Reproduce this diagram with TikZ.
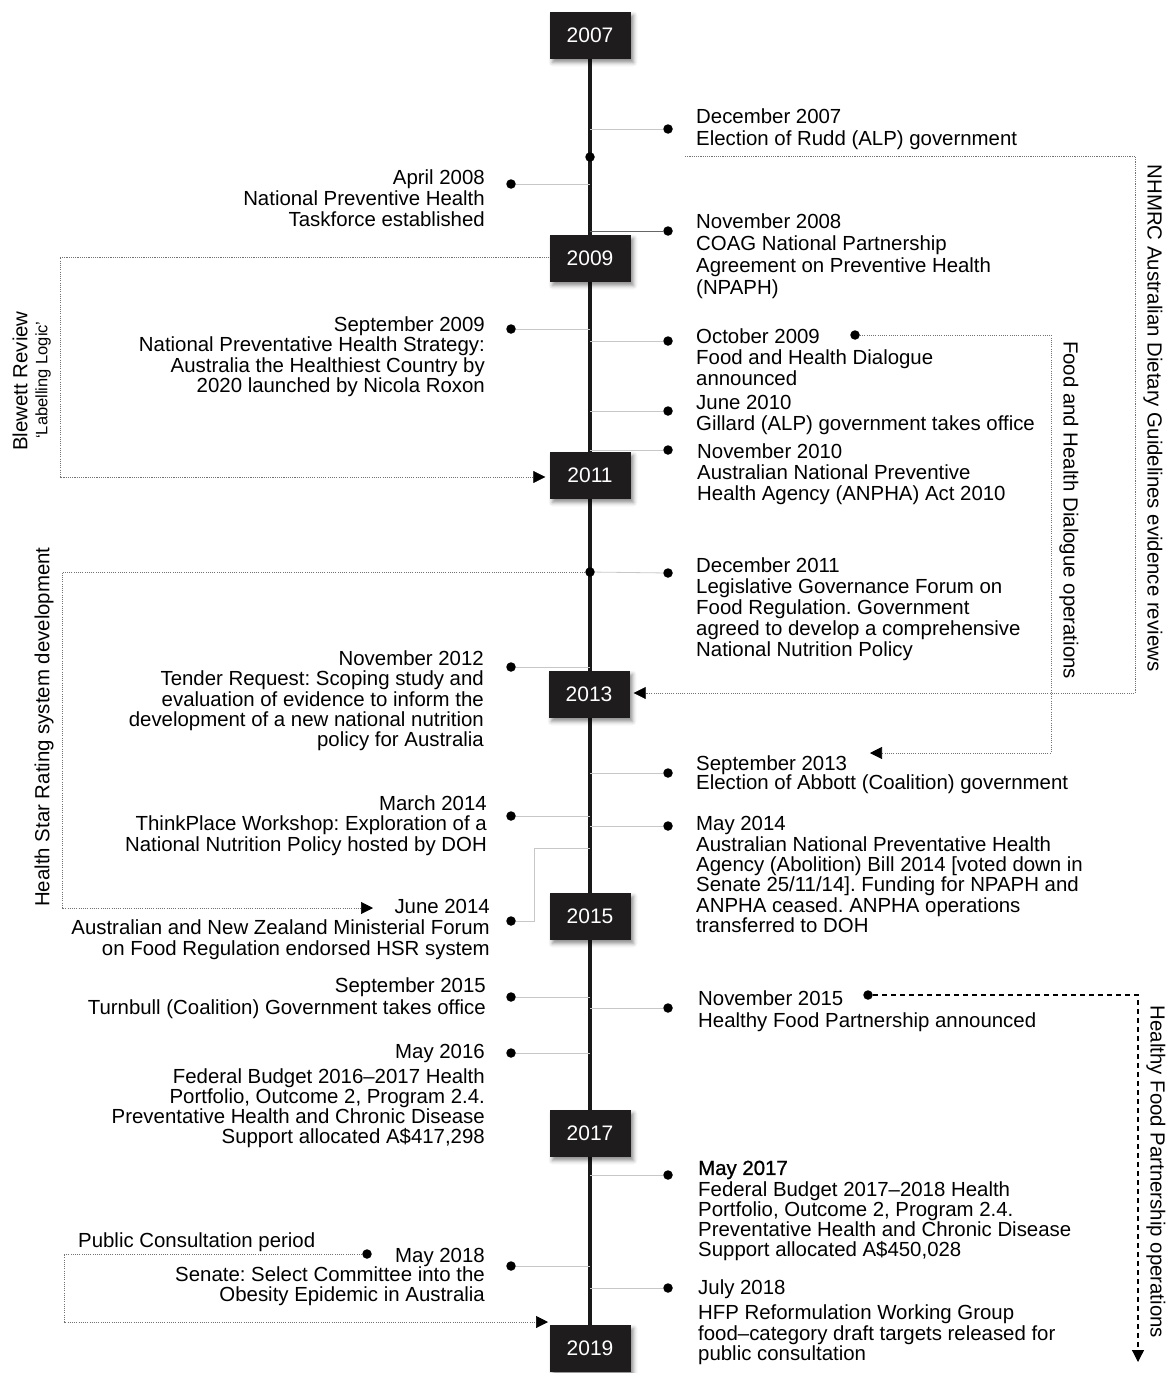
\documentclass[tikz,border=0pt]{standalone}
\usepackage{fontspec}
\setmainfont{Liberation Sans}
\newfontfamily\hdfont[FakeBold=0.9]{Liberation Sans}
\usetikzlibrary{arrows.meta,shadows.blur}
\definecolor{boxblack}{HTML}{1E1C1C}
\frenchspacing
\begin{document}
\begin{tikzpicture}[x=1pt,y=-1pt,
  every node/.style={font=\fontsize{20.4}{21}\selectfont},
  yearbox/.style={fill=boxblack, text=white, minimum width=81pt, minimum height=47pt, inner sep=0,
     font=\fontsize{21}{22}\selectfont,
     blur shadow={shadow xshift=3pt, shadow yshift=-4pt, shadow blur radius=4pt, shadow opacity=45}},
  evdot/.style={circle, fill=black, inner sep=0, minimum size=9.5pt},
  tldot/.style={circle, fill=black, inner sep=0, minimum size=9.5pt},
  conn/.style={draw=black!22, line width=0.8pt},
  connd/.style={draw=black!60, line width=0.9pt},
  brk/.style={draw=black!55, line width=0.6pt, dash pattern=on 1.1pt off 1.1pt},
  hfp/.style={draw=black, line width=1.2pt, dash pattern=on 5.5pt off 3.5pt},
  tip/.style={-{Triangle[length=12pt,width=12pt,color=black]}},
  rtext/.style={anchor=north west, align=left, inner sep=0},
  ltext/.style={anchor=north east, align=right, inner sep=0},
  vlabel/.style={anchor=center, inner sep=0}
]
\useasboundingbox (0,0) rectangle (1167,1373);

% timeline
\coordinate (tla) at (590,58);
\coordinate (tlb) at (590,1326);
\draw[line width=3.2pt, black!90] (tla) -- (tlb);

% timeline dots
\node[tldot] (t1) at (590,157) {};
\node[tldot] (t2) at (590,572) {};

% ---------------- right events ----------------
\node[evdot] (r1) at (668,129) {};
\node[rtext] (rt1) at (696,109) {December 2007\\[1pt]Election of Rudd (ALP) government};
\node[evdot] (r2) at (668,231) {};
\node[rtext] (rt2) at (696,214) {November 2008\\[1pt]COAG National Partnership\\[1pt]Agreement on Preventive Health\\[1pt](NPAPH)};
\node[evdot] (r3) at (668,341) {};
\node[rtext] (rt3) at (696,328.5) {October 2009\\Food and Health Dialogue\\announced};
\node[evdot] (r4) at (668,411) {};
\node[rtext] (rt4) at (696,395.5) {June 2010\\Gillard (ALP) government takes office};
\node[evdot] (r5) at (668,450) {};
\node[rtext] (rt5) at (697,443.5) {November 2010\\Australian National Preventive\\Health Agency (ANPHA) Act 2010};
\node[evdot] (r6) at (668,573) {};
\node[rtext] (rt6) at (696,557.5) {December 2011\\Legislative Governance Forum on\\Food Regulation. Government\\agreed to develop a comprehensive\\National Nutrition Policy};
\node[evdot] (r7) at (668,773) {};
\node[rtext] (rt7) at (696,755.5) {September 2013\\[-2pt]Election of Abbott (Coalition) government};
\node[evdot] (r8) at (668,826) {};
\node[rtext] (rt8) at (696,816.5) {May 2014\\[-0.7pt]Australian National Preventative Health\\[-0.7pt]Agency (Abolition) Bill 2014 [voted down in\\[-0.7pt]Senate 25/11/14]. Funding for NPAPH and\\[-0.7pt]ANPHA ceased. ANPHA operations\\[-0.7pt]transferred to DOH};
\node[evdot] (r9) at (668,1008) {};
\node[rtext] (rt9) at (698,990.5) {November 2015\\[1pt]Healthy Food Partnership announced};
\node[evdot] (r10) at (668,1175) {};
\node[rtext] (rt10) at (698,1160.5) {{\hdfont May 2017}\\[1pt]Federal Budget 2017--2018 Health\\[-1pt]Portfolio, Outcome 2, Program 2.4.\\[-1pt]Preventative Health and Chronic Disease\\[-1pt]Support allocated A\$450,028};
\node[evdot] (r11) at (668,1288) {};
\node[rtext] (rt11) at (698,1279.5) {July 2018\\[4pt]HFP Reformulation Working Group\\[-0.5pt]food--category draft targets released for\\[-0.5pt]public consultation};

% ---------------- left events ----------------
\node[evdot] (l1) at (511,184) {};
\node[ltext] (lt1) at (485,169.5) {April 2008\\National Preventive Health\\Taskforce established};
\node[evdot] (l2) at (511,329) {};
\node[ltext] (lt2) at (485,316.5) {September 2009\\[-0.7pt]National Preventative Health Strategy:\\[-0.7pt]Australia the Healthiest Country by\\[-0.7pt]2020 launched by Nicola Roxon};
\node[evdot] (l3) at (511,667) {};
\node[ltext] (lt3) at (484,650.5) {November 2012\\[-0.7pt]Tender Request: Scoping study and\\[-0.7pt]evaluation of evidence to inform the\\[-0.7pt]development of a new national nutrition\\[-0.7pt]policy for Australia};
\node[evdot] (l4) at (511,816) {};
\node[ltext] (lt4) at (487,795.5) {March 2014\\[-0.5pt]ThinkPlace Workshop: Exploration of a\\[-0.5pt]National Nutrition Policy hosted by DOH};
\node[evdot] (l5) at (511,921) {};
\node[ltext] (lt5) at (490,899.5) {June 2014\\Australian and New Zealand Ministerial Forum\\on Food Regulation endorsed HSR system};
\node[evdot] (l6) at (511,997) {};
\node[ltext] (lt6) at (486,977.5) {September 2015\\[1pt]Turnbull (Coalition) Government takes office};
\node[evdot] (l7) at (511,1053) {};
\node[ltext] (lt7) at (485,1044.5) {May 2016\\[4pt]Federal Budget 2016--2017 Health\\[-1pt]Portfolio, Outcome 2, Program 2.4.\\[-1pt]Preventative Health and Chronic Disease\\[-1pt]Support allocated A\$417,298};
\node[evdot] (l8) at (511,1266) {};
\node[ltext] (lt8) at (485,1248.5) {May 2018\\[-2pt]Senate: Select Committee into the\\[-1pt]Obesity Epidemic in Australia};
\node[rtext] (pc) at (78,1232.5) {Public Consultation period};

% bracket start dots
\node[tldot] (b1) at (855,335) {};
\node[tldot] (b2) at (868,995) {};
\node[tldot] (b3) at (367,1254) {};

% ---------------- year boxes ----------------
\node[yearbox] (y2007) at (590,35) {2007};
\node[yearbox] (y2009) at (590,258) {2009};
\node[yearbox] (y2011) at (590,475) {2011};
\node[yearbox] (y2013) at (589,694) {2013};
\node[yearbox] (y2015) at (590,916) {2015};
\node[yearbox] (y2017) at (590,1133) {2017};
\node[yearbox] (y2019) at (590,1348) {2019};

% ---------------- connectors ----------------
\draw[conn] (r1) -- (r1 -| tla);
\draw[connd] (r2) -- (r2 -| tla);
\draw[conn] (r3) -- (r3 -| tla);
\draw[conn] (r4) -- (r4 -| tla);
\draw[conn] (r5) -- (r5 -| tla);
\draw[conn] (r6) -- (t2);
\draw[conn] (r7) -- (r7 -| tla);
\draw[conn] (r8) -- (r8 -| tla);
\draw[conn] (r9) -- (r9 -| tla);
\draw[conn] (r10) -- (r10 -| tla);
\draw[conn] (r11) -- (r11 -| tla);
\draw[conn] (l1) -- (l1 -| tla);
\draw[conn] (l2) -- (l2 -| tla);
\draw[conn] (l3) -- (l3 -| tla);
\draw[conn] (l4) -- (l4 -| tla);
\coordinate (j1) at (534,921);
\coordinate (j2) at (534,848);
\draw[conn] (l5) -- (j1) -- (j2) -- (j2 -| tla);
\draw[conn] (l6) -- (l6 -| tla);
\draw[conn] (l7) -- (l7 -| tla);
\draw[conn] (l8) -- (l8 -| tla);

% ---------------- brackets ----------------
% NHMRC
\coordinate (nh0) at (685,156);
\coordinate (nh1) at (1135,156);
\coordinate (nh2) at (1135,693);
\draw[brk,tip] (nh0) -- (nh1) -- (nh2) -- ([xshift=4pt]y2013.east |- nh2);
\node[vlabel, rotate=-90] (nhl) at (1153,418) {NHMRC Australian Dietary Guidelines evidence reviews};
% Food and Health Dialogue
\coordinate (fh1) at (1051,335);
\coordinate (fh2) at (1051,753);
\coordinate (fh3) at (870,753);
\draw[brk,tip] (b1) -- (fh1) -- (fh2) -- (fh3);
\node[vlabel, rotate=-90] (fhl) at (1069,510) {Food and Health Dialogue operations};
% Healthy Food Partnership
\coordinate (hf1) at (1138,995);
\coordinate (hf2) at (1138,1362);
\draw[hfp,tip] (b2) -- (hf1) -- (hf2);
\node[vlabel, rotate=-90] (hfl) at (1156,1172) {Healthy Food Partnership operations};
% Blewett review
\coordinate (bw1) at (60,257);
\coordinate (bw2) at (60,477);
\draw[brk,tip] (y2009.west |- bw1) -- (bw1) -- (bw2) -- ([xshift=-4pt]y2011.west |- bw2);
\node[vlabel, rotate=90] (bwl) at (20,381) {Blewett Review};
\node[vlabel, rotate=90, font=\fontsize{16.5}{18}\selectfont] (bwl2) at (43,380) {`Labelling Logic'};
% Health Star Rating
\coordinate (hs1) at (62,572);
\coordinate (hs2) at (62,908);
\coordinate (hs3) at (373,908);
\draw[brk,tip] (t2) -- (hs1) -- (hs2) -- (hs3);
\node[vlabel, rotate=90] (hsl) at (44,727) {Health Star Rating system development};
% Public consultation
\coordinate (pc1) at (64,1254);
\coordinate (pc2) at (64,1322);
\coordinate (pc3) at (548,1322);
\draw[brk,tip] (b3) -- (pc1) -- (pc2) -- (pc3);
\end{tikzpicture}
\end{document}
